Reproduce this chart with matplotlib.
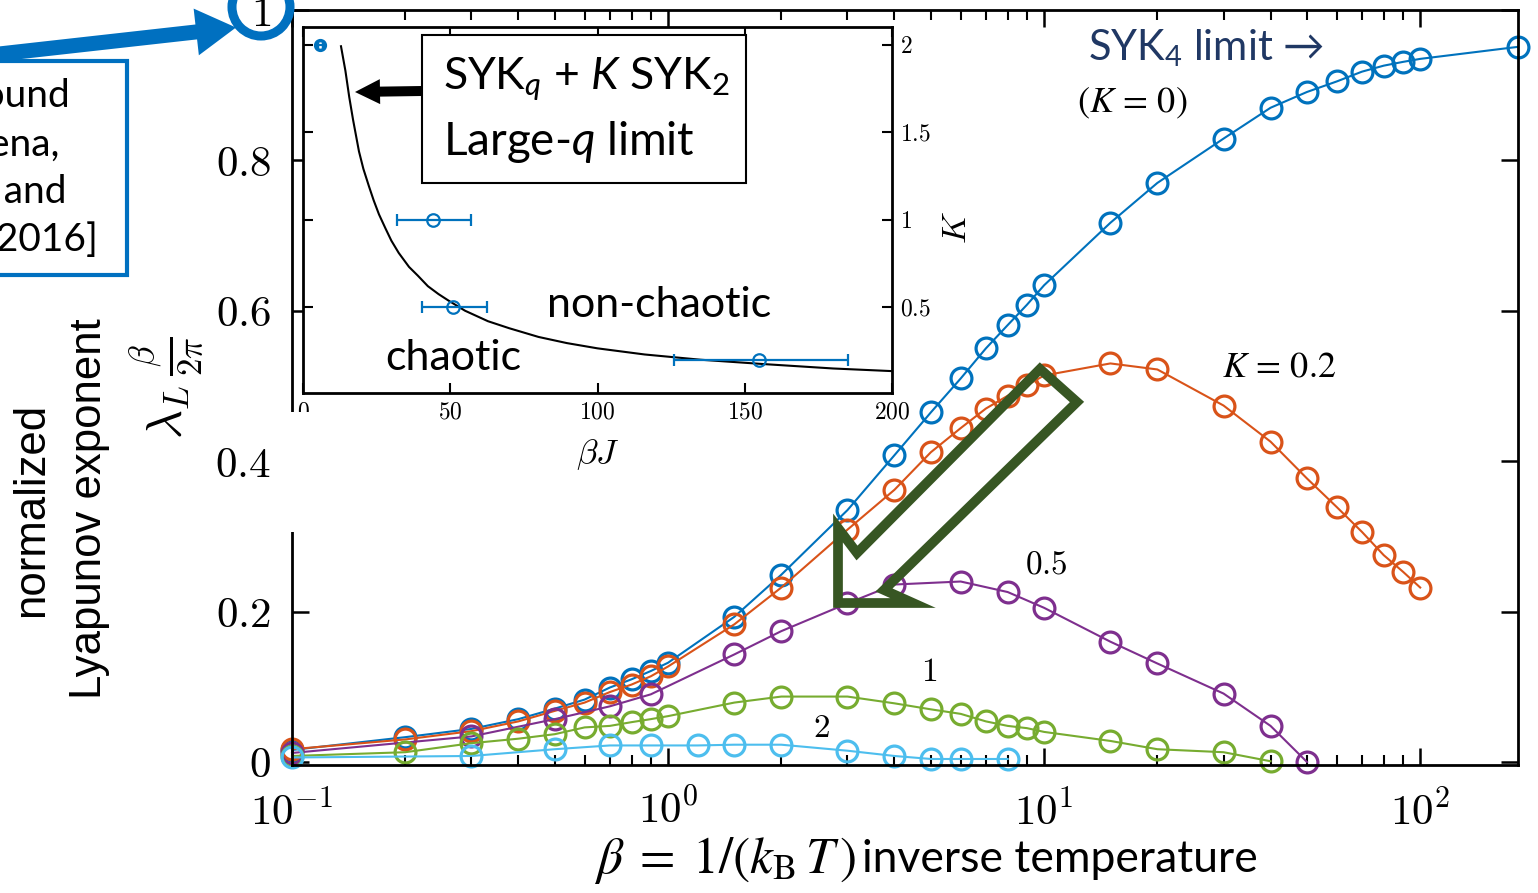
import numpy as np
import matplotlib
matplotlib.use('Agg')
import matplotlib.pyplot as plt
import matplotlib.transforms as mtransforms
from matplotlib.patches import Polygon, Circle, Rectangle
from matplotlib.ticker import NullFormatter

plt.rcParams['mathtext.fontset'] = 'cm'
plt.rcParams['mathtext.rm'] = 'Lato'
plt.rcParams['mathtext.it'] = 'Lato:italic'
plt.rcParams['font.family'] = ['Lato', 'DejaVu Sans']

# ---- main plot data: normalized Lyapunov exponent vs beta, for several K
beta_k0 = [0.1, 0.2, 0.3, 0.4, 0.5, 0.6, 0.7, 0.8, 0.9, 1, 1.5, 2, 3, 4, 5, 6, 7, 8, 9, 10,
           15, 20, 30, 40, 50, 60, 70, 80, 90, 100, 182]
lam_k0 = [0.016, 0.033, 0.044, 0.057, 0.071, 0.083, 0.099, 0.110, 0.121, 0.132, 0.193, 0.249,
          0.335, 0.408, 0.465, 0.510, 0.550, 0.581, 0.608, 0.634, 0.717, 0.770, 0.829, 0.870,
          0.891, 0.905, 0.918, 0.926, 0.931, 0.935, 0.951]

beta_k02 = [0.1, 0.2, 0.3, 0.4, 0.5, 0.6, 0.7, 0.8, 0.9, 1, 1.5, 2, 3, 4, 5, 6, 7, 8, 9, 10,
            15, 20, 30, 40, 50, 60, 70, 80, 90, 100]
lam_k02 = [0.017, 0.030, 0.041, 0.054, 0.068, 0.079, 0.093, 0.103, 0.114, 0.127, 0.183, 0.232,
           0.309, 0.362, 0.412, 0.444, 0.470, 0.487, 0.501, 0.514, 0.530, 0.522, 0.474, 0.426,
           0.377, 0.339, 0.306, 0.275, 0.253, 0.232]

beta_k05 = [0.1, 0.3, 0.5, 0.7, 0.9, 1.5, 2, 3, 4, 6, 8, 10, 15, 20, 30, 40, 50]
lam_k05 = [0.012, 0.034, 0.057, 0.074, 0.090, 0.143, 0.174, 0.211, 0.236, 0.240, 0.226, 0.205,
           0.160, 0.131, 0.091, 0.048, 0.000]

beta_k1 = [0.1, 0.2, 0.3, 0.4, 0.5, 0.6, 0.7, 0.8, 0.9, 1, 1.5, 2, 3, 4, 5, 6, 7, 8, 9, 10,
           15, 20, 30, 40]
lam_k1 = [0.008, 0.013, 0.025, 0.031, 0.037, 0.046, 0.048, 0.053, 0.057, 0.061, 0.079, 0.087,
          0.087, 0.078, 0.070, 0.064, 0.054, 0.048, 0.045, 0.040, 0.028, 0.017, 0.013, 0.001]

beta_k2 = [0.1, 0.3, 0.5, 0.7, 0.9, 1.2, 1.5, 2, 3, 4, 5, 6, 8]
lam_k2 = [0.006, 0.008, 0.017, 0.022, 0.022, 0.022, 0.023, 0.023, 0.015, 0.008, 0.004, 0.004,
          0.004]

# ---- inset data: K vs beta J (large-q curve, plus numerical points)
curve_bj = [12.9, 14.4, 15.7, 17, 19, 20.5, 22.4, 24, 25.8, 28, 30, 32.5, 36, 39, 42.4, 46,
            49.2, 55, 62.8, 70, 80, 89.6, 100, 116, 135, 156.6, 180, 200]
curve_k = [1.99, 1.85, 1.70, 1.57, 1.39, 1.29, 1.19, 1.11, 1.03, 0.95, 0.88, 0.81, 0.73, 0.68,
           0.62, 0.575, 0.54, 0.48, 0.42, 0.38, 0.33, 0.295, 0.265, 0.23, 0.20, 0.175, 0.15,
           0.135]
pts_bj = [5.8, 44, 51, 155]
pts_k = [2.0, 1.0, 0.5, 0.2]
pts_err_lo = [1.0, 12, 10.5, 29]
pts_err_hi = [1.0, 13, 11.5, 30]

xticks_main = [0.1, 1, 10, 100]
xlabels_main = [r'$10^{-1}$', r'$10^{0}$', r'$10^{1}$', r'$10^{2}$']
yticks_main = [0, 0.2, 0.4, 0.6, 0.8, 1.0]
ylabels_main = [r'$0$', r'$0.2$', r'$0.4$', r'$0.6$', r'$0.8$', r'$1$']

W, H = 1538, 893
fig = plt.figure(figsize=(W / 100, H / 100), dpi=100)
# image pixel coords (y down) -> figure coords
T = mtransforms.Affine2D().scale(1.0 / W, -1.0 / H).translate(0, 1) + fig.transFigure

ax = fig.add_axes([292 / W, 1 - 765 / H, (1518 - 292) / W, (765 - 10) / H])
series = [(beta_k0, lam_k0, '#0072BD'), (beta_k02, lam_k02, '#D95319'),
          (beta_k05, lam_k05, '#7E2F8E'), (beta_k1, lam_k1, '#77AC30'),
          (beta_k2, lam_k2, '#4DBEEE')]
for bx, ly, c in series:
    ax.plot(bx, ly, '-o', color=c, lw=1.5, ms=15, mfc='none', mew=2.3, clip_on=False)

ax.set_xscale('log')
ax.set_xlim(0.1, 182)
ax.set_ylim(-0.004, 1.0)
ax.set_xticks(xticks_main)
ax.set_xticklabels(xlabels_main)
ax.xaxis.set_minor_formatter(NullFormatter())
ax.set_yticks(yticks_main)
ax.set_yticklabels(ylabels_main)
ax.tick_params(which='both', direction='in', top=True, right=True, labelsize=31)
ax.tick_params(which='major', length=12, width=1.8)
ax.tick_params(axis='y', pad=15)
ax.tick_params(axis='x', pad=17)
ax.tick_params(which='minor', length=7, width=1.5)
for s in ax.spines.values():
    s.set_linewidth(2)

# ---- inset
axin = fig.add_axes([303 / W, 1 - 393 / H, (892 - 303) / W, (393 - 27) / H])
axin.plot(curve_bj, curve_k, color='black', lw=1.5)
axin.errorbar(pts_bj[1:], pts_k[1:], xerr=[pts_err_lo[1:], pts_err_hi[1:]], fmt='o',
              color='#0072BD', ms=9, mfc='none', mew=1.6, capsize=4, elinewidth=1.6)
axin.errorbar(pts_bj[:1], pts_k[:1], xerr=[pts_err_lo[:1], pts_err_hi[:1]], fmt='o',
              color='#0072BD', ms=7, mfc='none', mew=2.5, capsize=2, elinewidth=1.5)
axin.set_xlim(0, 200)
axin.set_ylim(0.01, 2.1)
axin.set_xticks([0, 50, 100, 150, 200])
axin.set_xticklabels([r'$0$', r'$50$', r'$100$', r'$150$', r'$200$'])
axin.set_yticks([0.5, 1, 1.5, 2])
axin.set_yticklabels([r'$0.5$', r'$1$', r'$1.5$', r'$2$'])
axin.tick_params(direction='in', top=True, right=True, left=True, labelleft=False,
                 labelright=True, labelsize=17, length=7, width=1.5, pad=6)
for s in axin.spines.values():
    s.set_linewidth(2)
fig.text(598, 455, r'$\beta J$', transform=T, fontsize=25, ha='center', va='center')
fig.text(956, 228, r'$K$', transform=T, fontsize=25, rotation=90, ha='center', va='center')

axin.text(547, 305, 'non-chaotic', transform=T, fontsize=31, ha='left', va='center')
axin.text(385, 358, 'chaotic', transform=T, fontsize=31, ha='left', va='center')

# text box inside inset
fig.patches.append(Rectangle((422, 35), 324, 148, transform=T, fc='white', ec='black',
                             lw=1.5, zorder=12))
fig.text(443, 79, r'SYK$_q$ + $K$ SYK$_2$', transform=T, fontsize=32, ha='left',
         va='center', math_fontfamily='custom', zorder=13)
fig.text(443, 142, r'Large-$q$ limit', transform=T, fontsize=33, ha='left',
         va='center', math_fontfamily='custom', zorder=13)


def block_arrow(p0, p1, shaft_w, head_w, head_len):
    p0 = np.array(p0, float)
    p1 = np.array(p1, float)
    d = (p1 - p0) / np.linalg.norm(p1 - p0)
    n = np.array([-d[1], d[0]])
    b = p1 - d * head_len
    return [p0 + n * shaft_w / 2, b + n * shaft_w / 2, b + n * head_w / 2, p1,
            b - n * head_w / 2, b - n * shaft_w / 2, p0 - n * shaft_w / 2]


fig.patches.append(Polygon(block_arrow((422, 91), (355, 92), 10, 25, 25), closed=True,
                           transform=T, fc='black', ec='none', zorder=13))

# white patch hiding part of the main left spine
fig.patches.append(Rectangle((284, 412), 34, 120, transform=T, fc='white', ec='none',
                             zorder=11))

# ---- main annotations
fig.text(1088, 48, r'SYK$_4$ limit →', transform=T, fontsize=30, color='#203864',
         ha='left', va='center', math_fontfamily='custom', zorder=13)
fig.text(1077, 103, r'$(K\,=\,0)$', transform=T, fontsize=26, ha='left', va='center',
         math_fontfamily='stix', zorder=13)
fig.text(1222, 366, r'$K\,=\,0.2$', transform=T, fontsize=26, ha='left', va='center',
         math_fontfamily='stix', zorder=13)
fig.text(1025, 565, r'$0.5$', transform=T, fontsize=24, ha='left', va='center', zorder=13)
fig.text(929, 672, r'$1$', transform=T, fontsize=24, ha='center', va='center', zorder=13)
fig.text(821, 728, r'$2$', transform=T, fontsize=24, ha='center', va='center', zorder=13)

# hollow green arrow
green_pts = [(838, 603), (838, 528), (857, 553), (1040, 369), (1077, 402), (884, 590),
             (913, 603)]
fig.patches.append(Polygon(green_pts, closed=True, transform=T, fc='none', ec='#375623',
                           lw=7, joinstyle='miter', zorder=13))

# axis labels
fig.text(167, 388, r'$\lambda_L\,\frac{\beta}{2\pi}$', transform=T, fontsize=36,
         rotation=90, ha='center', va='center')
fig.text(32, 510, 'normalized', transform=T, fontsize=31.5, rotation=90, ha='center',
         va='center', family='Liberation Sans')
fig.text(90, 509, 'Lyapunov exponent', transform=T, fontsize=31.5, rotation=90,
         ha='center', va='center', family='Liberation Sans')
fig.text(856, 860, r'$\beta\;=\;1/(k_{\mathrm{B}}\,T\,)$', transform=T, fontsize=37,
         ha='right', va='center', math_fontfamily='stix')
fig.text(862, 860, 'inverse temperature', transform=T, fontsize=32, ha='left',
         va='center')

# blue callout box, arrow and ring at top-left
fig.patches.append(Rectangle((-20, 61), 147, 214, transform=T, fc='white', ec='#0070C0',
                             lw=3, zorder=12))
callout_lines = ['Chaos bound', '[Maldacena,', 'Shenker and', 'Stanford 2016]']
callout_ends = [70, 60, 66, 98]
callout_y = [96, 145, 192, 240]
for txt, xe, yc in zip(callout_lines, callout_ends, callout_y):
    fig.text(xe, yc, txt, transform=T, fontsize=28, ha='right', va='center', zorder=13)
fig.patches.append(Polygon(block_arrow((-10, 55), (236, 27.5), 15, 47, 40), closed=True,
                           transform=T, fc='#0070C0', ec='none', zorder=13))
fig.patches.append(Circle((261, 7), 29, transform=T, fill=False, ec='#0070C0', lw=6.5,
                          zorder=13))

fig.savefig('out.png', dpi=100)
